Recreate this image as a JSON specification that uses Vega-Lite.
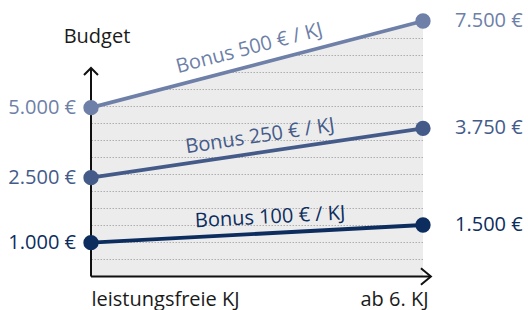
{
  "$schema": "https://vega.github.io/schema/vega-lite/v6.json",
  "width": 332,
  "height": 255.5,
  "autosize": {"type": "none"},
  "padding": {"left": 91, "top": 21, "right": 105, "bottom": 33.5},
  "data": {
    "values": [
      {"phase": "leistungsfreie KJ", "series": "Bonus 500 € / KJ", "budget": 5000},
      {"phase": "ab 6. KJ", "series": "Bonus 500 € / KJ", "budget": 7500},
      {"phase": "leistungsfreie KJ", "series": "Bonus 250 € / KJ", "budget": 2500},
      {"phase": "ab 6. KJ", "series": "Bonus 250 € / KJ", "budget": 3750},
      {"phase": "leistungsfreie KJ", "series": "Bonus 100 € / KJ", "budget": 1000},
      {"phase": "ab 6. KJ", "series": "Bonus 100 € / KJ", "budget": 1500}
    ]
  },
  "encoding": {
    "x": {
      "field": "phase",
      "type": "nominal",
      "sort": null,
      "scale": {"type": "point", "padding": 0, "domain": ["leistungsfreie KJ", "ab 6. KJ"]},
      "axis": {
        "title": null,
        "domain": false,
        "ticks": false,
        "grid": false,
        "labelAngle": 0,
        "labelFontSize": 20,
        "labelFont": "Open Sans",
        "labelColor": "#1a1a1a",
        "labelPadding": 28.5,
        "labelBaseline": "alphabetic",
        "labelAlign": {"condition": {"test": "datum.value === 'ab 6. KJ'", "value": "right"}, "value": "left"},
        "labelOffset": {"condition": {"test": "datum.value === 'ab 6. KJ'", "value": 5}, "value": 0}
      }
    }
  },
  "layer": [
    {
      "encoding": {
        "y": {
          "field": "budget",
          "type": "quantitative",
          "scale": {"domain": [0, 7500], "nice": false, "zero": true},
          "axis": {
            "orient": "left",
            "zindex": 0,
            "values": [500, 1000, 1500, 2000, 2500, 3000, 3500, 4000, 4500, 5000, 5500, 6000, 6500, 7000],
            "grid": true,
            "gridColor": "#bcbcbc",
            "gridDash": [1.5, 1.5],
            "gridWidth": 1,
            "labels": false,
            "ticks": false,
            "domain": false,
            "title": null
          }
        }
      },
      "layer": [
        {
          "transform": [{"filter": "datum.series === 'Bonus 500 € / KJ'"}],
          "mark": {"type": "area", "fill": "white", "opacity": 1},
          "encoding": {"y2": {"datum": 7500}}
        },
        {
          "transform": [{"filter": "datum.phase === 'leistungsfreie KJ' && datum.series === 'Bonus 500 € / KJ'"}],
          "mark": {"type": "rule", "color": "#111111", "strokeWidth": 2},
          "encoding": {"y": {"datum": 0}, "y2": {"datum": 6120}}
        },
        {
          "transform": [{"filter": "datum.phase === 'leistungsfreie KJ' && datum.series === 'Bonus 500 € / KJ'"}],
          "mark": {"type": "point", "shape": "M-1,1L0,0L1,1", "size": 196, "filled": false, "color": "#111111", "strokeWidth": 2, "opacity": 1},
          "encoding": {"y": {"datum": 6120}}
        },
        {
          "transform": [{"filter": "datum.phase === 'leistungsfreie KJ' && datum.series === 'Bonus 500 € / KJ'"}],
          "mark": {"type": "text", "text": "Budget", "align": "center", "baseline": "alphabetic", "dx": 6, "dy": -25, "fontSize": 20, "font": "Open Sans", "color": "#1a1a1a"},
          "encoding": {"y": {"datum": 6120}}
        },
        {
          "transform": [{"filter": "datum.phase === 'leistungsfreie KJ' && datum.series === 'Bonus 500 € / KJ'"}],
          "mark": {"type": "rule", "color": "#111111", "strokeWidth": 2, "x2Offset": 8},
          "encoding": {"x2": {"datum": "ab 6. KJ"}, "y": {"datum": 0}}
        },
        {
          "transform": [{"filter": "datum.phase === 'ab 6. KJ' && datum.series === 'Bonus 500 € / KJ'"}],
          "mark": {"type": "point", "shape": "M-0.25,-1L0.95,0L-0.25,1", "size": 276, "filled": false, "color": "#111111", "strokeWidth": 2, "opacity": 1},
          "encoding": {"y": {"datum": 0}}
        }
      ]
    },
    {
      "encoding": {
        "y": {
          "field": "budget",
          "type": "quantitative",
          "scale": {
            "domain": [0, 1000, 1500, 2500, 3750, 5000, 7500],
            "range": [255.5, 221.7, 204, 156.7, 107.3, 86.7, 0],
            "nice": false,
            "zero": false
          },
          "axis": null
        }
      },
      "layer": [
        {
          "transform": [{"filter": "datum.series === 'Bonus 500 € / KJ'"}],
          "mark": {"type": "area", "fill": "#000000", "fillOpacity": 0.075},
          "encoding": {"y2": {"datum": 0}}
        },
        {
          "mark": {"type": "line", "strokeWidth": 3.8},
          "encoding": {
            "color": {
              "field": "series",
              "type": "nominal",
              "scale": {"domain": ["Bonus 500 € / KJ", "Bonus 250 € / KJ", "Bonus 100 € / KJ"], "range": ["#6e7fa8", "#445b8a", "#0c2d5e"]},
              "legend": null
            }
          }
        },
        {
          "mark": {"type": "point", "filled": true, "size": 235, "opacity": 1},
          "encoding": {"color": {"field": "series", "type": "nominal", "legend": null}}
        },
        {
          "transform": [{"filter": "datum.phase === 'leistungsfreie KJ'"}],
          "mark": {"type": "text", "align": "right", "baseline": "middle", "dx": -15, "fontSize": 20, "font": "Open Sans"},
          "encoding": {
            "text": {"field": "budget", "type": "quantitative", "format": "$,.0f"},
            "color": {"field": "series", "type": "nominal", "legend": null}
          }
        },
        {
          "transform": [{"filter": "datum.phase === 'ab 6. KJ'"}],
          "mark": {"type": "text", "align": "left", "baseline": "middle", "dx": 32, "fontSize": 20, "font": "Open Sans"},
          "encoding": {
            "text": {"field": "budget", "type": "quantitative", "format": "$,.0f"},
            "color": {"field": "series", "type": "nominal", "legend": null}
          }
        },
        {
          "transform": [{"filter": "datum.phase === 'leistungsfreie KJ' && datum.series === 'Bonus 500 € / KJ'"}],
          "mark": {"type": "text", "align": "left", "baseline": "alphabetic", "angle": 345.4, "dx": 93, "dy": -11.5, "fontSize": 20, "font": "Open Sans"},
          "encoding": {
            "text": {"field": "series"},
            "color": {"field": "series", "type": "nominal", "legend": null}
          }
        },
        {
          "transform": [{"filter": "datum.phase === 'leistungsfreie KJ' && datum.series === 'Bonus 250 € / KJ'"}],
          "mark": {"type": "text", "align": "left", "baseline": "alphabetic", "angle": 351.5, "dx": 98, "dy": -10, "fontSize": 20, "font": "Open Sans"},
          "encoding": {
            "text": {"field": "series"},
            "color": {"field": "series", "type": "nominal", "legend": null}
          }
        },
        {
          "transform": [{"filter": "datum.phase === 'leistungsfreie KJ' && datum.series === 'Bonus 100 € / KJ'"}],
          "mark": {"type": "text", "align": "left", "baseline": "alphabetic", "angle": 357, "dx": 105, "dy": -10, "fontSize": 20, "font": "Open Sans"},
          "encoding": {
            "text": {"field": "series"},
            "color": {"field": "series", "type": "nominal", "legend": null}
          }
        }
      ]
    }
  ],
  "resolve": {"scale": {"y": "independent"}},
  "config": {
    "view": {"stroke": null},
    "font": "Open Sans",
    "locale": {
      "number": {"decimal": ",", "thousands": ".", "grouping": [3], "currency": ["", " €"]}
    }
  }
}
